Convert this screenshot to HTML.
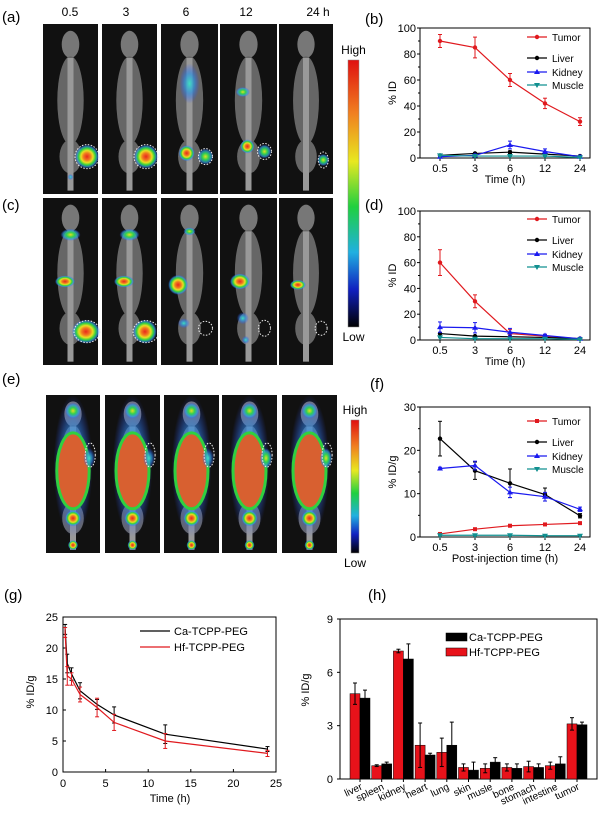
<!DOCTYPE html>
<html><head><meta charset="utf-8"><style>
body{margin:0;background:#fff;width:600px;height:814px;overflow:hidden}
svg{display:block;font-family:"Liberation Sans",Arial,sans-serif}
</style></head><body>
<svg id="s" width="600" height="814" viewBox="0 0 600 814">
<defs>
<radialGradient id="hot"><stop offset="0" stop-color="#e8281c"/><stop offset="0.3" stop-color="#f07a20"/><stop offset="0.5" stop-color="#e8e020"/><stop offset="0.7" stop-color="#30d040"/><stop offset="0.85" stop-color="#30a0e0" stop-opacity="0.7"/><stop offset="1" stop-color="#3050ff" stop-opacity="0"/></radialGradient>
<radialGradient id="warm"><stop offset="0" stop-color="#e0e020"/><stop offset="0.4" stop-color="#30d050"/><stop offset="0.75" stop-color="#30a0e0" stop-opacity="0.7"/><stop offset="1" stop-color="#3050ff" stop-opacity="0"/></radialGradient>
<radialGradient id="cool"><stop offset="0" stop-color="#40e0c0"/><stop offset="0.5" stop-color="#3090e0" stop-opacity="0.7"/><stop offset="1" stop-color="#3050ff" stop-opacity="0"/></radialGradient>
<linearGradient id="cbar" x1="0" y1="0" x2="0" y2="1"><stop offset="0" stop-color="#e01010"/><stop offset="0.2" stop-color="#f08020"/><stop offset="0.38" stop-color="#e8e820"/><stop offset="0.55" stop-color="#20d040"/><stop offset="0.72" stop-color="#20b0e0"/><stop offset="0.86" stop-color="#1020c0"/><stop offset="1" stop-color="#000"/></linearGradient>
</defs>
<g id="imgs"></g>
<g id="charts"></g>
</svg>
<script>
// ---- data ----
const timeCats = ["0.5","3","6","12","24"];
const bTumor=[90,85,60,42,28], bTumorErr=[5,8,5,4,3];
const bLiver=[2,3.5,4.5,3,1.5], bLiverErr=[0.5,0.5,1,0.5,0.5];
const bKidney=[1,2,10,5,1], bKidneyErr=[1,1,3,2,1];
const bMuscle=[2,1.5,1.5,1.5,0.5], bMuscleErr=[0.3,0.3,0.3,0.3,0.3];
const dTumor=[60,30,5,3,1], dTumorErr=[10,5,3,1,0.5];
const dLiver=[5,3,2.5,2,1], dLiverErr=[0.5,0.5,0.5,0.5,0.3];
const dKidney=[10,9.5,6,3.5,1], dKidneyErr=[4,4,3,1,1];
const dMuscle=[2,1,1,1,0.5], dMuscleErr=[0.3,0.3,0.3,0.3,0.3];
const fTumor=[0.7,1.8,2.6,2.9,3.2], fTumorErr=[0.1,0.1,0.1,0.1,0.1];
const fLiver=[22.7,15.3,12.4,9.8,4.9], fLiverErr=[4,2,3.3,1.5,0.5];
const fKidney=[15.8,16.5,10.3,9.3,6.4], fKidneyErr=[0.3,1,1.2,1,0.5];
const fMuscle=[0.4,0.4,0.4,0.3,0.3], fMuscleErr=[0.1,0.1,0.1,0.1,0.1];
const gTimes=[0.25,0.5,1,2,4,6,12,24];
const gCa=[23,17.5,15.8,13.1,10.9,9.2,6.1,3.7], gCaErr=[0.8,1.5,1,1.3,0.8,1.3,1.5,0.4];
const gHf=[22.5,15.5,15,12.5,10.4,8,5,3], gHfErr=[0.8,1.5,1,1.2,1.5,1.3,1.2,0.5];
const hCats=["liver","spleen","kidney","heart","lung","skin","musle","bone","stomach","intestine","tumor"];
const hHf=[4.8,0.75,7.2,1.9,1.5,0.65,0.6,0.65,0.7,0.75,3.1], hHfErr=[0.6,0.05,0.1,1.25,0.8,0.2,0.25,0.2,0.3,0.2,0.35];
const hCa=[4.55,0.85,6.75,1.35,1.9,0.5,0.95,0.6,0.65,0.85,3.05], hCaErr=[0.45,0.1,0.85,0.1,1.3,0.45,0.25,0.25,0.2,0.4,0.15];

const NS="http://www.w3.org/2000/svg";
function el(tag,attrs,parent,txt){const e=document.createElementNS(NS,tag);for(const k in attrs)e.setAttribute(k,attrs[k]);if(txt!==undefined)e.textContent=txt;parent.appendChild(e);return e;}
const imgs=document.getElementById('imgs'), charts=document.getElementById('charts');

// ---- images ----
function mouse(x,y,w,h,blobs,name,big){
  const g=el('g',{},imgs);
  
  
  el('rect',{x:x,y:y,width:w,height:h,fill:'#111'},g);
  const cx=x+w/2;
  el('ellipse',{cx:cx,cy:y+h*0.12,rx:w*0.16,ry:h*0.08,fill:'#777'},g);
  el('ellipse',{cx:cx,cy:y+h*0.45,rx:w*0.24,ry:h*0.26,fill:'#666'},g);
  el('ellipse',{cx:cx,cy:y+h*0.78,rx:w*0.2,ry:h*0.1,fill:'#666'},g);
  el('rect',{x:cx-3,y:y+h*0.2,width:6,height:h*0.78,fill:'#999'},g);
  if(big){el('ellipse',{cx:cx,cy:y+h*0.45,rx:w*0.36,ry:h*0.45,fill:'url(#cool)'},g);
    el('ellipse',{cx:cx,cy:y+h*0.48,rx:w*0.3,ry:h*0.24,fill:'#d86030',stroke:'#30d040','stroke-width':3},g);}
  blobs.forEach(b=>el('ellipse',{cx:x+b[0]*w,cy:y+b[1]*h,rx:b[2],ry:b[3]||b[2],fill:'url(#'+b[4]+')'},g));
}
function circ(x,y,w,h,c){el('ellipse',{cx:x+c[0]*w,cy:y+c[1]*h,rx:c[2],ry:c[3],fill:'none',stroke:'#eee','stroke-dasharray':'1.5,1.5'},imgs);}
const colsA=[[43,55],[102,55],[161,57],[220,57],[279,54]];
const aBlobs=[[[0.8,0.78,12,12,'hot'],[0.5,0.9,3,3,'cool']],[[0.8,0.78,12,12,'hot']],[[0.5,0.35,10,20,'cool'],[0.45,0.76,8,8,'hot'],[0.78,0.78,8,8,'warm']],[[0.4,0.4,7,5,'warm'],[0.48,0.72,7,7,'hot'],[0.78,0.75,7,7,'warm']],[[0.82,0.8,6,6,'warm']]];
colsA.forEach((c,i)=>{mouse(c[0],24,c[1],170,aBlobs[i],'tumor-image-a-'+i);});
[[0.8,0.78,12,12],[0.8,0.78,12,12],[0.78,0.78,7,8],[0.78,0.75,7,8],[0.82,0.8,5,8]].forEach((c,i)=>circ(colsA[i][0],24,colsA[i][1],170,c));
const cBlobs=[[[0.5,0.22,10,6,'warm'],[0.4,0.5,10,6,'hot'],[0.78,0.8,14,12,'hot']],[[0.5,0.22,10,6,'warm'],[0.4,0.5,10,6,'hot'],[0.78,0.8,12,12,'hot']],[[0.5,0.2,6,4,'warm'],[0.3,0.52,10,10,'hot'],[0.4,0.75,6,5,'cool']],[[0.35,0.5,10,8,'hot'],[0.4,0.72,6,6,'cool'],[0.45,0.85,4,4,'cool']],[[0.35,0.52,8,5,'hot']]];
colsA.forEach((c,i)=>{mouse(c[0],198,c[1],167,cBlobs[i],'tumor-image-c-'+i);});
[[0.8,0.8,13,11],[0.8,0.8,13,11],[0.78,0.78,7,7],[0.78,0.78,6,8],[0.78,0.78,6,7]].forEach((c,i)=>circ(colsA[i][0],198,colsA[i][1],167,c));
const colsE=[[46,54],[105,55],[164,55],[222,55],[282,55]];
colsE.forEach((c,i)=>{mouse(c[0],395,c[1],158,[[0.5,0.1,8,8,'warm'],[0.5,0.78,8,8,'hot'],[0.5,0.95,5,5,'hot'],[0.8,0.4,6,10,i>2?'warm':'cool']],'pet-image-e-'+i,true);
  circ(c[0],395,c[1],158,[0.82,0.38,5,12]);});
// colorbars
function cbar(x,y,w,h,lh,ll,n){const g=el('g',{},imgs);
 el('rect',{x:x,y:y,width:w,height:h,fill:'url(#cbar)',stroke:'#888','stroke-width':0.5},g);
 el('text',{x:x+w/2,y:y-6,'font-size':12,'text-anchor':'middle'},g,'High');el('text',{x:x+w/2,y:y+h+14,'font-size':12,'text-anchor':'middle'},g,'Low');}
cbar(348,60,11,267,0,0,'colorbar-1');
cbar(351,420,8,133,0,0,'colorbar-2');
const tl=[[70,'0.5'],[126,'3'],[186,'6'],[246,'12'],[318,'24 h']];
tl.forEach(t=>{const e=el('text',{x:t[0],y:16,'font-size':12,'text-anchor':'middle'},imgs,t[1]);});
[['(a)',2,22],['(c)',2,210],['(e)',2,384],['(b)',365,24],['(d)',365,210],['(f)',370,389],['(g)',4,600],['(h)',368,600]].forEach(p=>{const e=el('text',{x:p[1],y:p[2],'font-size':15},imgs,p[0]);});

// ---- line charts b,d,f ----
function lineChart(name,top,bot,ymax,ystep,xlab,ylab,series,leg){
  const g=el('g',{},charts);
  const L=420,R=590;const xs=i=>440+i*35;const ys=v=>bot-(v/ymax)*(bot-top);
  el('rect',{x:L,y:top,width:R-L,height:bot-top,fill:'none',stroke:'#000','stroke-width':1},g);
  for(let v=0;v<=ymax;v+=ystep){el('line',{x1:L,x2:L-3,y1:ys(v),y2:ys(v),stroke:'#000'},g);el('text',{x:L-4,y:ys(v)+4,'font-size':11,'text-anchor':'end'},g,v);
    if(v<ymax)el('line',{x1:L,x2:L-2,y1:ys(v+ystep/2),y2:ys(v+ystep/2),stroke:'#000'},g);}
  timeCats.forEach((c,i)=>{el('line',{x1:xs(i),x2:xs(i),y1:bot,y2:bot+3,stroke:'#000'},g);el('text',{x:xs(i),y:bot+14,'font-size':11,'text-anchor':'middle'},g,c);});
  const xt=el('text',{x:505,y:bot+25,'font-size':11,'text-anchor':'middle'},g,xlab);
  const yt=el('text',{x:0,y:0,'font-size':11,'text-anchor':'middle',transform:`translate(${L-24},${(top+bot)/2}) rotate(-90)`},g,ylab);
  series.forEach((s,k)=>{
    const sg=el('g',{},g);
    el('polyline',{points:s.v.map((v,i)=>xs(i)+','+ys(v)).join(' '),fill:'none',stroke:s.c,'stroke-width':1.2},sg);
    s.v.forEach((v,i)=>{el('line',{x1:xs(i),x2:xs(i),y1:ys(v+s.e[i]),y2:ys(v-s.e[i]),stroke:s.c},sg);
      el('line',{x1:xs(i)-2,x2:xs(i)+2,y1:ys(v+s.e[i]),y2:ys(v+s.e[i]),stroke:s.c},sg);el('line',{x1:xs(i)-2,x2:xs(i)+2,y1:ys(v-s.e[i]),y2:ys(v-s.e[i]),stroke:s.c},sg);
      marker(sg,xs(i),ys(v),s.m,s.c);});
    const ly=top+leg[k];const lg=el('g',{},g);
    el('line',{x1:527,x2:547,y1:ly,y2:ly,stroke:s.c,'stroke-width':1.2},lg);marker(lg,537,ly,s.m,s.c);
    el('text',{x:552,y:ly+4,'font-size':10},lg,s.n);
  });
}
function marker(g,x,y,m,c){
  if(m==='o')el('circle',{cx:x,cy:y,r:2.2,fill:c},g);
  else if(m==='s')el('rect',{x:x-2,y:y-2,width:4,height:4,fill:c},g);
  else if(m==='^')el('polygon',{points:`${x},${y-3} ${x-3},${y+2} ${x+3},${y+2}`,fill:c},g);
  else el('polygon',{points:`${x},${y+3} ${x-3},${y-2} ${x+3},${y-2}`,fill:c},g);
}
const RED='#e0191e',BLK='#000',BLU='#1a1aef',TEA='#129090';
lineChart('chart-b',28,158,100,20,'Time (h)','% ID',[{n:'Tumor',v:bTumor,e:bTumorErr,c:RED,m:'o'},{n:'Liver',v:bLiver,e:bLiverErr,c:BLK,m:'o'},{n:'Kidney',v:bKidney,e:bKidneyErr,c:BLU,m:'^'},{n:'Muscle',v:bMuscle,e:bMuscleErr,c:TEA,m:'v'}],[9,30,44,57]);
lineChart('chart-d',211,340,100,20,'Time (h)','% ID',[{n:'Tumor',v:dTumor,e:dTumorErr,c:RED,m:'o'},{n:'Liver',v:dLiver,e:dLiverErr,c:BLK,m:'o'},{n:'Kidney',v:dKidney,e:dKidneyErr,c:BLU,m:'^'},{n:'Muscle',v:dMuscle,e:dMuscleErr,c:TEA,m:'v'}],[8,29,43,56]);
lineChart('chart-f',407,537,30,10,'Post-injection time (h)','% ID/g',[{n:'Tumor',v:fTumor,e:fTumorErr,c:RED,m:'s'},{n:'Liver',v:fLiver,e:fLiverErr,c:BLK,m:'o'},{n:'Kidney',v:fKidney,e:fKidneyErr,c:BLU,m:'^'},{n:'Muscle',v:fMuscle,e:fMuscleErr,c:TEA,m:'v'}],[14,35,49,62]);

// ---- chart g ----
(function(){
  const g=el('g',{},charts);
  const L=63,R=276,T=617,B=772;const xs=t=>L+t/25*(R-L),ys=v=>B-v/25*(B-T);
  el('rect',{x:L,y:T,width:R-L,height:B-T,fill:'none',stroke:'#000'},g);
  for(let v=0;v<=25;v+=5){el('line',{x1:L,x2:L+3,y1:ys(v),y2:ys(v),stroke:'#000'},g);el('text',{x:L-5,y:ys(v)+4,'font-size':11,'text-anchor':'end'},g,v);
    el('line',{x1:xs(v),x2:xs(v),y1:B,y2:B-3,stroke:'#000'},g);el('text',{x:xs(v),y:B+15,'font-size':11,'text-anchor':'middle'},g,v);}
  const xt=el('text',{x:170,y:802,'font-size':11,'text-anchor':'middle'},g,'Time (h)');
  const yt=el('text',{x:0,y:0,'font-size':11,'text-anchor':'middle',transform:'translate(34,692) rotate(-90)'},g,'% ID/g');
  [[gCa,gCaErr,BLK,'Ca-TCPP-PEG',631],[gHf,gHfErr,RED,'Hf-TCPP-PEG',647]].forEach(s=>{
    const sg=el('g',{},g);
    el('polyline',{points:s[0].map((v,i)=>xs(gTimes[i])+','+ys(v)).join(' '),fill:'none',stroke:s[2],'stroke-width':1.2},sg);
    s[0].forEach((v,i)=>{const x=xs(gTimes[i]);el('line',{x1:x,x2:x,y1:ys(v+s[1][i]),y2:ys(v-s[1][i]),stroke:s[2]},sg);
      el('line',{x1:x-2,x2:x+2,y1:ys(v+s[1][i]),y2:ys(v+s[1][i]),stroke:s[2]},sg);el('line',{x1:x-2,x2:x+2,y1:ys(v-s[1][i]),y2:ys(v-s[1][i]),stroke:s[2]},sg);});
    const lg=el('g',{},g);
    el('line',{x1:140,x2:170,y1:s[4],y2:s[4],stroke:s[2],'stroke-width':1.2},lg);el('text',{x:174,y:s[4]+4,'font-size':11},lg,s[3]);
  });
})();

// ---- chart h ----
(function(){
  const g=el('g',{},charts);
  const L=340,R=597,T=619,B=779;const ys=v=>B-v/9*(B-T);const gx=i=>360+i*21.7;
  el('rect',{x:L,y:T,width:R-L,height:B-T,fill:'none',stroke:'#000'},g);
  for(let v=0;v<=9;v+=3){el('line',{x1:L,x2:L-3,y1:ys(v),y2:ys(v),stroke:'#000'},g);el('text',{x:L-7,y:ys(v)+4,'font-size':11,'text-anchor':'end'},g,v);}
  const yt=el('text',{x:0,y:0,'font-size':11,'text-anchor':'middle',transform:'translate(309,690) rotate(-90)'},g,'% ID/g');
  hCats.forEach((c,i)=>{
    const x=gx(i);
    el('line',{x1:x,x2:x,y1:B,y2:B+3,stroke:'#000'},g);
    const t=el('text',{x:0,y:0,'font-size':10,'text-anchor':'end',transform:`translate(${x+3},${B+10}) rotate(-25)`},g,c);
    
    [[hHf[i],hHfErr[i],'#e8121a',x-10],[hCa[i],hCaErr[i],'#000',x]].forEach(b=>{
      const r=el('rect',{x:b[3],y:ys(b[0]),width:10,height:ys(0)-ys(b[0]),fill:b[2],stroke:'#000','stroke-width':0.5},g);
      
      const cx=b[3]+5;el('line',{x1:cx,x2:cx,y1:ys(b[0]+b[1]),y2:ys(b[0]-b[1]),stroke:'#000'},g);
      el('line',{x1:cx-2,x2:cx+2,y1:ys(b[0]+b[1]),y2:ys(b[0]+b[1]),stroke:'#000'},g);el('line',{x1:cx-2,x2:cx+2,y1:ys(b[0]-b[1]),y2:ys(b[0]-b[1]),stroke:'#000'},g);
    });
  });
  [['#000','Ca-TCPP-PEG',633],['#e8121a','Hf-TCPP-PEG',648]].forEach(s=>{const lg=el('g',{},g);
    el('rect',{x:446,y:s[2],width:21,height:8,fill:s[0],stroke:'#000','stroke-width':0.5},lg);el('text',{x:469,y:s[2]+8,'font-size':11},lg,s[1]);});
})();
</script>
</body></html>
